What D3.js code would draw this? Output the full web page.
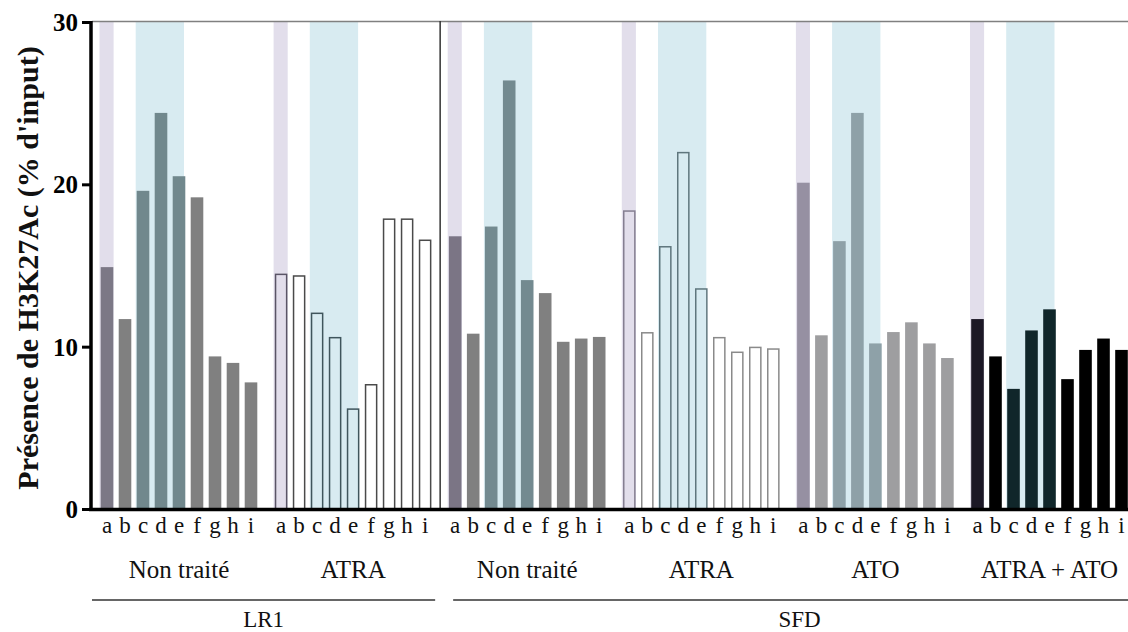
<!DOCTYPE html>
<html><head><meta charset="utf-8">
<script src="https://cdn.jsdelivr.net/npm/d3@7"></script>
<style>html,body{margin:0;padding:0;background:#fff;}svg{display:block;}</style>
</head><body><svg id="c" width="1128" height="632"></svg>
<script>
// ---- data ----
const letters = ["a","b","c","d","e","f","g","h","i"];
const groupIds = ["LR1-NT","LR1-ATRA","SFD-NT","SFD-ATRA","SFD-ATO","SFD-ATRA+ATO"];
const treatments = ["Non traité","ATRA","Non traité","ATRA","ATO","ATRA + ATO"];
const cellLines = ["LR1","LR1","SFD","SFD","SFD","SFD"];
const lr1NonTraite = [14.9, 11.7, 19.6, 24.4, 20.5, 19.2, 9.4, 9.0, 7.8];
const lr1ATRA      = [14.5, 14.4, 12.1, 10.6, 6.2, 7.7, 17.9, 17.9, 16.6];
const sfdNonTraite = [16.8, 10.8, 17.4, 26.4, 14.1, 13.3, 10.3, 10.5, 10.6];
const sfdATRA      = [18.4, 10.9, 16.2, 22.0, 13.6, 10.6, 9.7, 10.0, 9.9];
const sfdATO       = [20.1, 10.7, 16.5, 24.4, 10.2, 10.9, 11.5, 10.2, 9.3];
const sfdATRAATO   = [11.7, 9.4, 7.4, 11.0, 12.3, 8.0, 9.8, 10.5, 9.8];
const seriesValues = [lr1NonTraite, lr1ATRA, sfdNonTraite, sfdATRA, sfdATO, sfdATRAATO];
const yTicks = [0, 10, 20, 30];
const yTitle = "Présence de H3K27Ac (% d'input)";

// ---- styles ----
const groupStyle = [
  {hollow:false, base:"#808080", a:"#7c7886", cde:"#71888d"},
  {hollow:true,  base:"#4a4a4a", a:"#5a5566", cde:"#3f555c"},
  {hollow:false, base:"#808080", a:"#7b7585", cde:"#738a90"},
  {hollow:true,  base:"#8a8a8a", a:"#857f91", cde:"#5f767d"},
  {hollow:false, base:"#9e9ea0", a:"#9690a2", cde:"#8ea1a8"},
  {hollow:false, base:"#000000", a:"#1c1826", cde:"#10262a"}
];
const serif = "'Times New Roman', 'Liberation Serif', 'DejaVu Serif', serif";

const svg = d3.select("#c");
const y = d3.scaleLinear().domain([0, 30]).range([509, 22]);
const xo = d3.scaleBand().domain(d3.range(groupIds.length)).range([100.7, 1127.8]).paddingInner(0.1005).paddingOuter(0);
const xi = d3.scaleBand().domain(letters).range([0, xo.bandwidth()]).paddingInner(0.3).paddingOuter(0);
const bw = xi.bandwidth();

// highlight bands
const gBands = svg.append("g");
groupIds.forEach((gid, g) => {
  gBands.append("rect").attr("x", xo(g) + xi("a") - 1.2).attr("y", y(30))
    .attr("width", bw + 1.5).attr("height", y(0) - y(30)).attr("fill", "#e2deeb");
  gBands.append("rect").attr("x", xo(g) + xi("c") - 1).attr("y", y(30))
    .attr("width", xi("e") + bw - 0.3 - xi("c")).attr("height", y(0) - y(30)).attr("fill", "#d8ebf1");
});

// top border + separator
svg.append("line").attr("x1", 92).attr("x2", 1128).attr("y1", y(30) - 0.5).attr("y2", y(30) - 0.5)
  .attr("stroke", "#808080").attr("stroke-width", 1.5);
const sepX = (xo(1) + xo.bandwidth() + xo(2)) / 2;
svg.append("line").attr("x1", sepX).attr("x2", sepX).attr("y1", y(30) - 1).attr("y2", y(0))
  .attr("stroke", "#333").attr("stroke-width", 1.5);

// bars
const rows = [];
seriesValues.forEach((vals, g) => vals.forEach((v, i) => rows.push({g, letter: letters[i], v})));
function barColor(d) {
  const s = groupStyle[d.g];
  if (d.letter === "a") return s.a;
  if (["c","d","e"].includes(d.letter)) return s.cde;
  return s.base;
}
svg.append("g").selectAll("rect").data(rows).join("rect")
  .attr("x", d => xo(d.g) + xi(d.letter) + (groupStyle[d.g].hollow ? 0.75 : 0))
  .attr("y", d => y(d.v) + (groupStyle[d.g].hollow ? 0.75 : 0))
  .attr("width", d => bw - (groupStyle[d.g].hollow ? 1.5 : 0))
  .attr("height", d => y(0) - y(d.v) - (groupStyle[d.g].hollow ? 0.75 : 0))
  .attr("fill", d => groupStyle[d.g].hollow ? "none" : barColor(d))
  .attr("stroke", d => groupStyle[d.g].hollow ? barColor(d) : "none")
  .attr("stroke-width", 1.5);

// y axis
const yAxis = d3.axisLeft(y).tickValues(yTicks).tickSize(9).tickPadding(4).tickFormat(d3.format("d"));
const ga = svg.append("g").attr("transform", "translate(91,0)").call(yAxis);
ga.select(".domain").attr("stroke", "#000").attr("stroke-width", 3.5).attr("d", `M0,${y(30)-1}V${y(0)}`);
ga.selectAll(".tick line").attr("stroke", "#000").attr("stroke-width", 3);
ga.selectAll(".tick text").attr("font-family", serif).attr("font-weight", "bold")
  .attr("font-size", 25).attr("fill", "#000").attr("dy", "0.34em");

// x axis baseline
svg.append("line").attr("x1", 89).attr("x2", 1128).attr("y1", y(0) + 0.5).attr("y2", y(0) + 0.5)
  .attr("stroke", "#000").attr("stroke-width", 3.5);

// letters
svg.append("g").selectAll("text").data(rows).join("text")
  .attr("x", d => xo(d.g) + xi(d.letter) + bw / 2).attr("y", 533)
  .attr("text-anchor", "middle").attr("font-family", serif).attr("font-size", 23).attr("fill", "#111")
  .text(d => d.letter);

// treatment labels
svg.append("g").selectAll("text").data(treatments).join("text")
  .attr("x", (d, g) => xo(g) + xo.bandwidth() / 2).attr("y", 578)
  .attr("text-anchor", "middle").attr("font-family", serif).attr("font-size", 25).attr("fill", "#111")
  .text(d => d);

// cell line brackets
const lines = Array.from(d3.group(cellLines.map((c, g) => ({c, g})), d => d.c), ([c, arr]) => ({c, gs: arr.map(a => a.g)}));
lines.forEach(L => {
  const first = L.gs[0], last = L.gs[L.gs.length - 1];
  const x1 = first === 0 ? 92 : (xo(first - 1) + xo.bandwidth() + xo(first)) / 2 + 13;
  const x2 = last === groupIds.length - 1 ? 1128 : (xo(last) + xo.bandwidth() + xo(last + 1)) / 2 - 5;
  svg.append("line").attr("x1", x1).attr("x2", x2).attr("y1", 600).attr("y2", 600)
    .attr("stroke", "#333").attr("stroke-width", 1.3);
  svg.append("text").attr("x", (x1 + x2) / 2 + (last === groupIds.length - 1 ? 9 : 0)).attr("y", 627)
    .attr("text-anchor", "middle").attr("font-family", serif).attr("font-size", 23).attr("fill", "#111")
    .text(L.c);
});

// y title
svg.append("text").attr("transform", "translate(27,268) rotate(-90)")
  .attr("text-anchor", "middle").attr("dominant-baseline", "central")
  .attr("font-family", serif).attr("font-weight", "bold").attr("font-size", 30).attr("fill", "#111")
  .text(yTitle);
</script></body></html>
